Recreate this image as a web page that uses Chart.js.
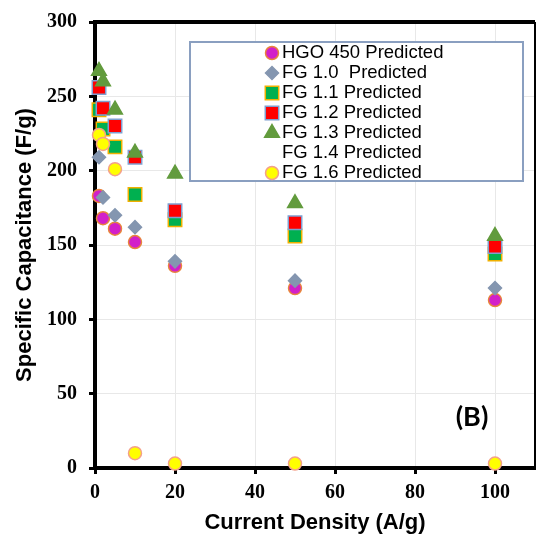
<!DOCTYPE html>
<html>
<head>
<meta charset="UTF-8">
<title>Specific Capacitance vs Current Density</title>
<script src="https://cdn.jsdelivr.net/npm/chart.js@4.4.1/dist/chart.umd.min.js"></script>
<style>
  body { margin: 0; background: #fff; }
  #wrap { width: 536px; height: 540px; }
</style>
</head>
<body>
<div id="wrap"><canvas id="capChart" width="536" height="540"></canvas></div>
<script>
// values (x = current density A/g, y = F/g)
const currentDensity = [1, 2, 5, 10, 20, 50, 100];
const hgo450 = [183, 168, 161, 152, 136, 121, 113];
const fg10 = [209, 182, 170, 162, 139, 126, 121];
const fg11 = [241, 228, 216, 184, 167, 156, 144];
const fg12 = [256, 242, 230, 209, 173, 165, 149];
const fg13 = [267, 260, 241, 212, 198, 178, 156];
const fg14 = [];
const fg16 = [224, 218, 201, 10, 3, 3, 3];

const seriesNames = ['HGO 450 Predicted', 'FG 1.0  Predicted', 'FG 1.1 Predicted',
    'FG 1.2 Predicted', 'FG 1.3 Predicted', 'FG 1.4 Predicted', 'FG 1.6 Predicted'];
const seriesValues = [hgo450, fg10, fg11, fg12, fg13, fg14, fg16];

const xTicks = [0, 20, 40, 60, 80, 100];
const yTicks = [0, 50, 100, 150, 200, 250, 300];
const panelLabel = '(B)';

const styles = [
    { pointStyle: 'circle', radius: 6.5, bg: '#d21fc9', border: '#e8843c' },
    { pointStyle: 'rectRot', radius: 6.5, bg: '#8496b0', border: '#8496b0' },
    { pointStyle: 'rect', radius: 9.5, bg: '#00b050', border: '#f0b000' },
    { pointStyle: 'rect', radius: 9.5, bg: '#ff0000', border: '#7f9fd0' },
    { pointStyle: 'triangle', radius: 8.5, bg: '#629b3d', border: '#629b3d' },
    { pointStyle: false, radius: 0, bg: 'transparent', border: 'transparent' },
    { pointStyle: 'circle', radius: 6.5, bg: '#ffff00', border: '#f4a08a' }
];

const datasets = seriesNames.map((name, i) => ({
    label: name,
    data: seriesValues[i].map((v, j) => ({ x: currentDensity[j], y: v })),
    pointStyle: styles[i].pointStyle,
    pointRadius: styles[i].radius,
    pointBackgroundColor: styles[i].bg,
    pointBorderColor: styles[i].border,
    pointBorderWidth: 1.5,
    showLine: false,
    clip: false,
    order: seriesNames.length - i   // later series drawn on top
}));

function drawMarker(ctx, st, x, y) {
    if (!st.pointStyle) return;
    const r = st.radius;
    ctx.save();
    ctx.fillStyle = st.bg;
    ctx.strokeStyle = st.border;
    ctx.lineWidth = 1.5;
    ctx.beginPath();
    if (st.pointStyle === 'circle') {
        ctx.arc(x, y, r, 0, Math.PI * 2);
    } else if (st.pointStyle === 'rect') {
        const s = r * Math.SQRT1_2;
        ctx.rect(x - s, y - s, 2 * s, 2 * s);
    } else if (st.pointStyle === 'rectRot') {
        ctx.moveTo(x - r, y); ctx.lineTo(x, y - r); ctx.lineTo(x + r, y); ctx.lineTo(x, y + r);
        ctx.closePath();
    } else if (st.pointStyle === 'triangle') {
        ctx.moveTo(x, y - r);
        ctx.lineTo(x + r * 0.866, y + r * 0.5);
        ctx.lineTo(x - r * 0.866, y + r * 0.5);
        ctx.closePath();
    }
    ctx.fill();
    ctx.stroke();
    ctx.restore();
}

const extras = {
    id: 'extras',
    beforeDatasetsDraw(chart) {
        const ctx = chart.ctx;
        // legend box inside the plot
        const bx = 190, by = 42, bw = 333, bh = 139;
        ctx.save();
        ctx.fillStyle = '#fff';
        ctx.fillRect(bx, by, bw, bh);
        ctx.strokeStyle = '#8a9fc0';
        ctx.lineWidth = 2;
        ctx.strokeRect(bx, by, bw, bh);
        ctx.font = '18.5px "Liberation Sans", Arial, sans-serif';
        ctx.fillStyle = '#000';
        ctx.textBaseline = 'middle';
        seriesNames.forEach((name, i) => {
            const y = by + 11 + i * 20;
            drawMarker(ctx, styles[i], 272, y);
            ctx.fillText(name, 282, y);
        });
        ctx.restore();
    },
    afterDraw(chart) {
        const ctx = chart.ctx;
        const a = chart.chartArea;
        ctx.save();
        ctx.strokeStyle = '#000';
        ctx.lineWidth = 4;
        ctx.beginPath();
        ctx.moveTo(a.left, a.top);
        ctx.lineTo(a.right, a.top);
        ctx.stroke();
        ctx.lineWidth = 2;
        ctx.beginPath();
        ctx.moveTo(a.right, a.top);
        ctx.lineTo(a.right, a.bottom);
        ctx.stroke();
        ctx.font = 'bold 27px Lato, "Liberation Sans", sans-serif';
        ctx.fillStyle = '#000';
        ctx.textAlign = 'center';
        ctx.textBaseline = 'middle';
        ctx.fillText(panelLabel, 472, 417);
        ctx.restore();
    }
};

new Chart(document.getElementById('capChart').getContext('2d'), {
    type: 'scatter',
    data: { datasets: datasets },
    options: {
        responsive: false,
        animation: false,
        // big markers would otherwise push the plot in from the right edge
        layout: { autoPadding: false, padding: { top: 22, right: 1, left: 0, bottom: 0 } },
        plugins: {
            legend: { display: false },
            tooltip: { enabled: false }
        },
        scales: {
            x: {
                min: 0,
                max: 110,
                afterBuildTicks: s => { s.ticks = xTicks.map(v => ({ value: v })); },
                afterFit: s => { s.height = 72; s.paddingRight = 0; s.paddingLeft = 0; },
                ticks: {
                    color: '#000',
                    padding: 7,
                    maxRotation: 0,
                    font: { family: '"Liberation Serif", "Times New Roman", serif', size: 20, weight: 'bold' }
                },
                grid: { color: '#e8e8e8', tickColor: '#000', tickLength: 6, tickWidth: 3 },
                border: { color: '#000', width: 4 },
                title: {
                    display: true,
                    text: 'Current Density (A/g)',
                    color: '#000',
                    padding: { top: 4, bottom: 4 },
                    font: { family: '"Liberation Sans", Arial, sans-serif', size: 22, weight: 'bold' }
                }
            },
            y: {
                min: 0,
                max: 300,
                afterBuildTicks: s => { s.ticks = yTicks.map(v => ({ value: v })); },
                afterFit: s => { s.width = 95; s.paddingTop = 0; s.paddingBottom = 0; },
                ticks: {
                    color: '#000',
                    padding: 12,
                    font: { family: '"Liberation Serif", "Times New Roman", serif', size: 20, weight: 'bold' }
                },
                grid: { color: '#e8e8e8', tickColor: '#000', tickLength: 6, tickWidth: 3 },
                border: { color: '#000', width: 4 },
                title: {
                    display: true,
                    text: 'Specific Capacitance (F/g)',
                    color: '#000',
                    padding: { top: 12, bottom: 4 },
                    font: { family: '"Liberation Sans", Arial, sans-serif', size: 22, weight: 'bold' }
                }
            }
        }
    },
    plugins: [extras]
});
</script>
</body>
</html>
